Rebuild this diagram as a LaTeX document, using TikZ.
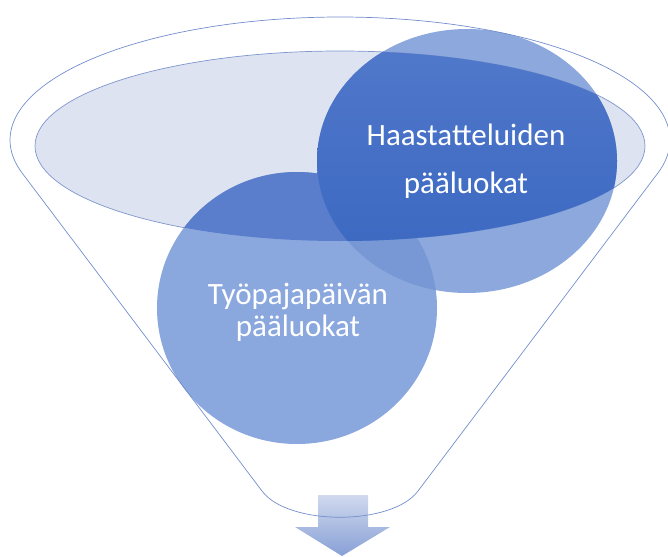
\documentclass[tikz,border=0pt]{standalone}
\usepackage{fontspec}
\setmainfont{Carlito}
\begin{document}
\begin{tikzpicture}[x=1pt,y=-1pt]
\definecolor{ellfill}{RGB}{222,227,241}
\definecolor{ellline}{RGB}{125,150,205}
\definecolor{funline}{RGB}{115,142,205}
\definecolor{bigout}{RGB}{116,149,212}
\definecolor{smallout}{RGB}{139,168,222}
\definecolor{smallin}{RGB}{90,126,203}
\definecolor{bigtop}{RGB}{82,121,203}
\definecolor{bigbot}{RGB}{56,102,192}
\definecolor{arrtop}{RGB}{208,217,238}
\definecolor{arrbot}{RGB}{136,160,214}
\tikzset{
  lbl/.style={text=white, align=center, inner sep=0pt},
  outline/.style={draw=funline, line width=0.7pt}
}
\useasboundingbox (0,0) rectangle (668,556);
% mouth of the funnel
\filldraw[fill=ellfill, draw=ellline, line width=0.7pt] (340,146) ellipse [x radius=305pt, y radius=95pt];
% circles, light parts
\fill[smallout] (297,308) ellipse [x radius=140pt, y radius=136pt];
\fill[bigout, fill opacity=0.82] (467,161) ellipse [x radius=150pt, y radius=132pt];
% circles, parts inside the mouth
\begin{scope}
  \clip (340,146) ellipse [x radius=305pt, y radius=95pt];
  \fill[smallin] (297,308) ellipse [x radius=140pt, y radius=136pt];
  \shade[top color=bigtop, bottom color=bigbot] (467,161) ellipse [x radius=150pt, y radius=132pt];
\end{scope}
% arrow
\shade[top color=arrtop, bottom color=arrbot]
  (318,495) -- (368,495) -- (368,527) -- (390,527) -- (342,556) -- (295,527) -- (318,527) -- cycle;
% funnel outline
\draw[outline]
  plot[domain=196:-16, samples=150, variable=\t] ({340+330*cos(\t)},{140-123*sin(\t)})
  -- (418,491) .. controls (392,526) and (288,526) .. (262,491) -- cycle;
% labels
\node[lbl, font=\fontsize{31}{48}\selectfont] (haast) at (466,161) {Haastatteluiden\\pääluokat};
\node[lbl, font=\fontsize{31}{32}\selectfont] (tyop) at (298,312) {Työpajapäivän\\pääluokat};
\end{tikzpicture}
\end{document}
